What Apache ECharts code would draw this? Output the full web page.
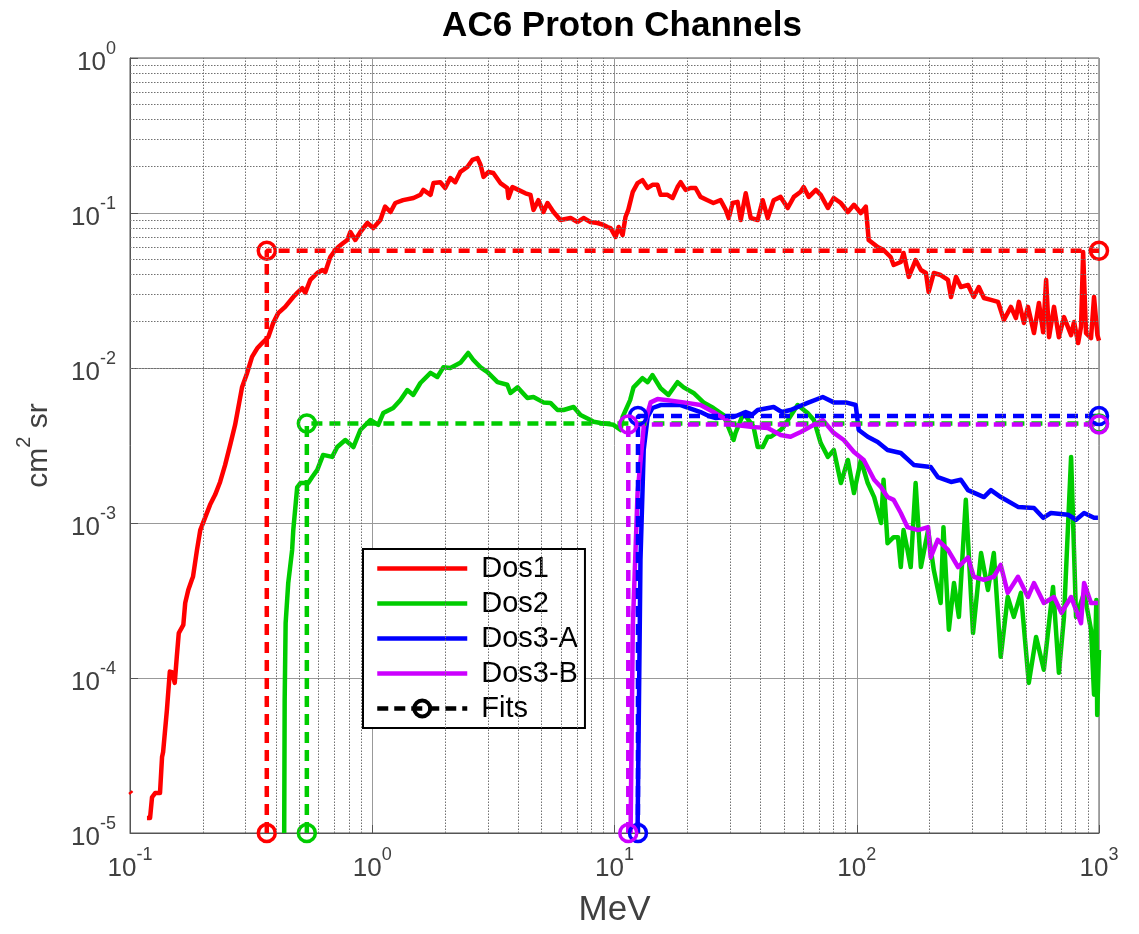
<!DOCTYPE html>
<html><head><meta charset="utf-8">
<script src="https://cdn.jsdelivr.net/npm/echarts@6/dist/echarts.min.js"></script>
<style>html,body{margin:0;padding:0;background:#fff}#c{width:1139px;height:934px}</style>
</head><body><div id="c"></div>
<script>
// ---- data (MeV, cm^2 sr) ----
const dos1 = [[0.1,1.85e-5],[0.1015,1.8e-5],[0.11,'-'],
[0.1175,1.25e-5],[0.121,1.25e-5],[0.1233,1.7e-5],[0.127,1.81e-5],[0.133,1.81e-5],[0.1356,3.09e-5],[0.137,3.33e-5],[0.142,6.2e-5],[0.146,1.1e-4],[0.149,1.09e-4],[0.153,9.3e-5],[0.156,1.37e-4],[0.159,1.95e-4],[0.166,2.2e-4],[0.169,3.05e-4],[0.174,3.7e-4],[0.18,4.3e-4],[0.182,4.5e-4],[0.189,6.7e-4],[0.195,9.0e-4],[0.204,1.08e-3],[0.214,1.31e-3],[0.2245,1.52e-3],[0.2355,1.84e-3],[0.247,2.37e-3],[0.259,3.18e-3],[0.2716,4.3e-3],[0.29,7.5e-3],[0.3045,9.3e-3],[0.319,0.0118],[0.335,0.0134],[0.3545,0.0147],[0.372,0.0158],[0.39,0.0195],[0.409,0.0226],[0.437,0.0248],[0.472,0.0287],[0.49,0.0305],[0.514,0.0328],[0.529,0.0305],[0.555,0.037],[0.593,0.041],[0.622,0.0429],[0.64,0.0416],[0.671,0.052],[0.704,0.0577],[0.724,0.0603],[0.759,0.064],[0.789,0.067],[0.812,0.0754],[0.851,0.067],[0.893,0.0754],[0.955,0.0862],[1.01,0.08],[1.08,0.09],[1.13,0.11],[1.19,0.1015],[1.245,0.116],[1.34,0.121],[1.48,0.125],[1.58,0.131],[1.625,0.141],[1.74,0.131],[1.79,0.156],[1.91,0.158],[2.0,0.145],[2.1,0.168],[2.2,0.158],[2.31,0.184],[2.47,0.198],[2.59,0.22],[2.72,0.226],[2.8,0.204],[2.88,0.171],[3.02,0.184],[3.16,0.181],[3.38,0.156],[3.61,0.145],[3.65,0.125],[3.79,0.147],[4.01,0.141],[4.29,0.134],[4.5,0.131],[4.63,0.1047],[4.85,0.121],[5.09,0.1015],[5.29,0.116],[5.6,0.1015],[5.98,0.0901],[6.59,0.0928],[7.04,0.0875],[7.45,0.0928],[7.96,0.0875],[8.51,0.0862],[9.01,0.0837],[9.36,0.0812],[9.63,0.08],[10.1,0.07],[10.4,0.0812],[10.8,0.0721],[11.1,0.0942],[11.4,0.1047],[11.9,0.137],[12.45,0.156],[13.05,0.163],[13.7,0.145],[14.35,0.152],[15.05,0.152],[15.5,0.131],[16.55,0.131],[17.37,0.125],[18.2,0.147],[18.75,0.158],[19.65,0.141],[20.6,0.145],[21.6,0.145],[22.65,0.127],[24.2,0.121],[25.6,0.116],[27.4,0.121],[28.8,0.1047],[29.6,0.0928],[30.75,0.116],[32.2,0.118],[33.2,0.0901],[34.8,0.134],[36.5,0.0928],[39.0,0.0901],[40.9,0.121],[42.9,0.0928],[45.4,0.121],[48.5,0.127],[51.9,0.1077],[55.0,0.127],[58.7,0.137],[60.4,0.147],[63.4,0.127],[67.8,0.141],[71.0,0.131],[76.0,0.1077],[80.4,0.125],[86.0,0.116],[91.9,0.1015],[97.4,0.113],[103.9,0.1],[109,0.11],[112,0.067],[122,0.0603],[129,0.0577],[138,0.052],[142,0.0462],[152,0.0483],[156,0.0552],[164,0.0387],[175,0.0497],[184,0.0429],[193,0.041],[198,0.031],[208,0.041],[222,0.0398],[238,0.037],[245,0.0287],[257,0.0387],[269,0.0333],[288,0.0343],[304,0.0287],[319,0.0333],[335,0.0283],[358,0.0275],[383,0.0267],[405,0.0204],[433,0.0248],[454,0.021],[467,0.0267],[490,0.0195],[509,0.0248],[539,0.0168],[565,0.0263],[588,0.017],[605,0.037],[622,0.0158],[652,0.0248],[683,0.0158],[717,0.0213],[767,0.0163],[789,0.0198],[820,0.0145],[843,0.0184],[860,0.056],[884,0.0168],[927,0.0156],[954,0.0287],[985,0.0163],[1000,0.015]];

const dos2 = [[0.433,1e-5],[0.435,7.2e-5],[0.439,2.26e-4],[0.45,4.1e-4],[0.467,6.7e-4],[0.472,9.0e-4],[0.49,1.7e-3],[0.505,1.81e-3],[0.544,1.81e-3],[0.565,1.98e-3],[0.593,2.2e-3],[0.627,2.75e-3],[0.683,2.67e-3],[0.717,3.09e-3],[0.774,3.43e-3],[0.836,3.09e-3],[0.893,3.98e-3],[0.982,4.62e-3],[1.059,4.3e-3],[1.11,5.12e-3],[1.22,5.52e-3],[1.305,6.2e-3],[1.395,7.2e-3],[1.477,6.7e-3],[1.58,8.0e-3],[1.74,9.3e-3],[1.856,8.75e-3],[1.965,0.0101],[2.1,0.01],[2.31,0.0108],[2.49,0.0125],[2.61,0.0113],[2.8,0.0101],[2.99,9.4e-3],[3.29,8.1e-3],[3.61,7.8e-3],[3.72,6.9e-3],[3.98,7.5e-3],[4.37,6.4e-3],[4.63,6.5e-3],[5.09,6.0e-3],[5.44,5.95e-3],[5.82,5.36e-3],[6.16,5.36e-3],[6.78,5.6e-3],[7.24,4.97e-3],[7.96,4.62e-3],[8.2,4.5e-3],[8.76,4.42e-3],[9.9,4.3e-3],[10.6,3.98e-3],[10.8,4.83e-3],[11.6,6.2e-3],[11.98,7.5e-3],[13.05,8.6e-3],[13.7,8.1e-3],[14.35,9.0e-3],[15.5,7.4e-3],[16.7,6.7e-3],[18.2,8.1e-3],[19.3,7.5e-3],[21.2,6.9e-3],[23.3,6.0e-3],[25.6,5.52e-3],[28.2,4.97e-3],[31.0,3.43e-3],[31.6,3.81e-3],[34.1,5.12e-3],[37.5,4.17e-3],[39.0,3.09e-3],[40.9,3.09e-3],[42.9,3.6e-3],[44.2,3.6e-3],[48.5,3.98e-3],[49.9,4.17e-3],[57.0,5.77e-3],[62.7,5.12e-3],[66.5,4.62e-3],[71.0,3.28e-3],[76.0,2.67e-3],[80.4,2.96e-3],[86.0,1.81e-3],[91.9,2.55e-3],[97.4,1.56e-3],[104,2.55e-3],[111,1.81e-3],[118,1.47e-3],[126,1.0e-3],[129,1.9e-3],[134,7.4e-4],[142,8.1e-4],[148,8.1e-4],[152,5.2e-4],[156,9.0e-4],[162,6.7e-4],[167,5.2e-4],[175,1.81e-3],[184,5.2e-4],[197,9.0e-4],[208,4.97e-4],[222,3.05e-4],[228,9.4e-4],[240,2.05e-4],[252,4.1e-4],[264,2.48e-4],[282,1.41e-3],[302,1.95e-4],[326,6.4e-4],[348,3.7e-4],[368,6.4e-4],[393,1.37e-4],[420,3.33e-4],[445,2.48e-4],[476,3.54e-4],[513,9.3e-5],[550,1.84e-4],[592,1.13e-4],[646,3.87e-4],[683,1.08e-4],[717,2.48e-4],[767,2.67e-3],[804,2.48e-4],[868,3.54e-4],[927,2.05e-4],[954,7.8e-5],[975,3.18e-4],[983,5.77e-5],[1000,1.52e-4]];

const dos3a = [[12.45,1e-5],[12.8,5.77e-4],[13.2,2.96e-3],[13.7,4.83e-3],[14.35,5.52e-3],[15.5,5.77e-3],[18.75,5.77e-3],[22.65,5.2e-3],[24.5,4.9e-3],[26.2,4.76e-3],[28.8,4.83e-3],[31.0,4.83e-3],[34.8,5.2e-3],[37,5.0e-3],[39.0,5.36e-3],[45.4,5.6e-3],[49,5.2e-3],[53.3,5.36e-3],[62.7,5.95e-3],[72.4,6.5e-3],[80.4,6.0e-3],[90.1,6.0e-3],[99,5.77e-3],[101.9,3.98e-3],[111,3.6e-3],[122,3.33e-3],[134,2.96e-3],[152,2.83e-3],[172,2.37e-3],[202,2.3e-3],[216,1.98e-3],[245,1.84e-3],[269,1.9e-3],[288,1.63e-3],[335,1.47e-3],[358,1.63e-3],[393,1.47e-3],[463,1.27e-3],[539,1.25e-3],[588,1.08e-3],[633,1.16e-3],[745,1.13e-3],[804,1.05e-3],[868,1.16e-3],[954,1.08e-3],[990,1.08e-3]];

const dos3b = [[11.65,1e-5],[11.9,2.13e-4],[12.45,1.56e-3],[13.2,4.17e-3],[14.1,6.0e-3],[15.05,6.3e-3],[16.55,6.2e-3],[19.3,6.0e-3],[22.65,5.77e-3],[25.6,5.2e-3],[28.2,4.76e-3],[31.0,4.3e-3],[36.5,4.17e-3],[42.9,4.1e-3],[48.5,3.7e-3],[53.3,3.6e-3],[58.7,3.87e-3],[66.5,4.3e-3],[72.4,4.62e-3],[80.4,3.81e-3],[88.4,3.43e-3],[97.4,2.87e-3],[106.9,2.55e-3],[118,1.9e-3],[126,1.7e-3],[134,1.47e-3],[142,1.41e-3],[152,1.16e-3],[162,9.4e-4],[179,9.0e-4],[197,9.4e-4],[202,6.0e-4],[216,7.8e-4],[238,6.7e-4],[262,5.2e-4],[288,6.0e-4],[304,4.5e-4],[335,4.3e-4],[368,4.5e-4],[393,5.36e-4],[420,3.54e-4],[463,4.5e-4],[509,3.33e-4],[539,4.1e-4],[592,3.05e-4],[652,3.33e-4],[700,2.63e-4],[767,3.33e-4],[843,2.26e-4],[868,4.1e-4],[927,3.05e-4],[990,3.05e-4]];

const fit1 = [[0.367,1e-5],[0.367,0.057],[1000,0.057]];
const fit2 = [[0.537,1e-5],[0.537,0.00438],[1000,0.00438]];
const fit3a = [[12.5,1e-5],[12.5,0.0049],[1000,0.0049]];
const fit3b = [[11.4,1e-5],[11.4,0.00432],[1000,0.00432]];

const legendNames = ['Dos1','Dos2','Dos3-A','Dos3-B','Fits'];
const colors = {d1:'#ff0000', d2:'#00cc00', d3a:'#0000ff', d3b:'#cc00ff'};
const xRange = [0.1, 1000];
const yRange = [1e-5, 1];
const mantissas = [2,3,4,5,6,7,8,9];
const xDecades = [0.1, 1, 10, 100];
const yDecades = [1e-5, 1e-4, 1e-3, 1e-2, 1e-1];

// ---- chart ----
const FONT = '"Liberation Sans", Arial, Helvetica, sans-serif';
const minorX = [], minorY = [];
xDecades.forEach(d => mantissas.forEach(m => minorX.push(+(m*d).toPrecision(6))));
yDecades.forEach(d => mantissas.forEach(m => minorY.push(+(m*d).toPrecision(6))));

const tickRich = {
  b: {fontSize: 26, lineHeight: 36, verticalAlign: 'bottom', color: '#404040', fontFamily: FONT},
  s: {fontSize: 18, lineHeight: 14, verticalAlign: 'top', color: '#404040', fontFamily: FONT}
};
function expFmt(v){ const e = Math.round(Math.log10(v)); return '{b|10}{s|' + e + '}'; }

const LW = 4.5;
function dataSeries(name, data, color){
  return {name, type:'line', data, symbol:'none', showSymbol:false, clip:false, z:3,
    lineStyle:{color, width:LW, join:'round'}, itemStyle:{color}, animation:false, connectNulls:false};
}
function fitSeries(name, data, color){
  return {name, type:'line', data, symbol:'circle', symbolSize:17, showSymbol:true, clip:false, z:4,
    lineStyle:{color, width:LW, type:[11,7]},
    itemStyle:{color:'rgba(255,255,255,0)', borderColor:color, borderWidth:3.5}, animation:false};
}
const lineIcon = 'path://M0,0H90V4.5H0Z';

const chart = echarts.init(document.getElementById('c'), null, {renderer:'canvas'});
chart.setOption({
  backgroundColor:'#fff',
  animation:false,
  title:{text:'AC6 Proton Channels', left:617, top:4, textAlign:'center',
    textStyle:{fontSize:35, fontWeight:'bold', color:'#000', fontFamily:FONT}},
  grid:{left:130, top:58, right:40, bottom:101, show:true, borderColor:'#555', borderWidth:1, backgroundColor:'#fff'},
  legend:{data:[
      {name:'Dos1', icon:lineIcon},{name:'Dos2', icon:lineIcon},
      {name:'Dos3-A', icon:lineIcon},{name:'Dos3-B', icon:lineIcon},
      {name:'Fits', lineStyle:{width:4.5, color:'#000', type:[11,6]},
        itemStyle:{color:'rgba(255,255,255,0)', borderColor:'#000', borderWidth:4}}],
    orient:'vertical', left:363, top:549, padding:[5,7,5,12],
    itemWidth:90, itemHeight:20, itemGap:6, backgroundColor:'#fff', borderColor:'#000', borderWidth:2,
    selectedMode:false, textStyle:{fontSize:29, color:'#000', fontFamily:FONT, padding:[0,0,0,9]}},
  xAxis:{type:'log', logBase:10, min:xRange[0], max:xRange[1], name:'MeV', nameLocation:'middle', nameGap:60,
    nameTextStyle:{fontSize:35, color:'#404040', fontFamily:FONT},
    axisLine:{show:true, lineStyle:{color:'#555'}},
    axisTick:{show:true, inside:true, length:8, lineStyle:{color:'#555'}},
    axisLabel:{margin:13, formatter:expFmt, rich:tickRich},
    splitLine:{show:true, lineStyle:{color:'#999', width:1}}},
  yAxis:{type:'log', logBase:10, min:yRange[0], max:yRange[1], name:'{a|cm}{s|2}{a| sr}', nameLocation:'middle', nameGap:76,
    nameRotate:90,
    nameTextStyle:{fontSize:30, color:'#404040', fontFamily:FONT, rich:{
      a:{fontSize:30, lineHeight:40, verticalAlign:'bottom', color:'#404040', fontFamily:FONT},
      s:{fontSize:20, lineHeight:16, verticalAlign:'top', color:'#404040', fontFamily:FONT}}},
    axisLine:{show:true, lineStyle:{color:'#555'}},
    axisTick:{show:true, inside:true, length:8, lineStyle:{color:'#555'}},
    axisLabel:{margin:14, formatter:expFmt, rich:tickRich},
    splitLine:{show:true, lineStyle:{color:'#999', width:1}}},
  series:[
    {type:'line', data:[], silent:true, z:1, markLine:{silent:true, symbol:['none','none'], label:{show:false},
      animation:false, lineStyle:{color:'#707070', width:1, type:[1.5,1.5]},
      data: minorX.map(v=>({xAxis:v})).concat(minorY.map(v=>({yAxis:v})))}},
    dataSeries('Dos1', dos1, colors.d1),
    dataSeries('Dos2', dos2, colors.d2),
    dataSeries('Dos3-A', dos3a, colors.d3a),
    dataSeries('Dos3-B', dos3b, colors.d3b),
    fitSeries('fit1', fit1, colors.d1),
    fitSeries('fit2', fit2, colors.d2),
    fitSeries('fit3a', fit3a, colors.d3a),
    fitSeries('fit3b', fit3b, colors.d3b),
    {name:'Fits', type:'line', data:[], symbol:'circle', symbolSize:18,
      lineStyle:{color:'#000', width:LW, type:[11,6]},
      itemStyle:{color:'rgba(255,255,255,0)', borderColor:'#000', borderWidth:4}}
  ]
});
</script></body></html>
